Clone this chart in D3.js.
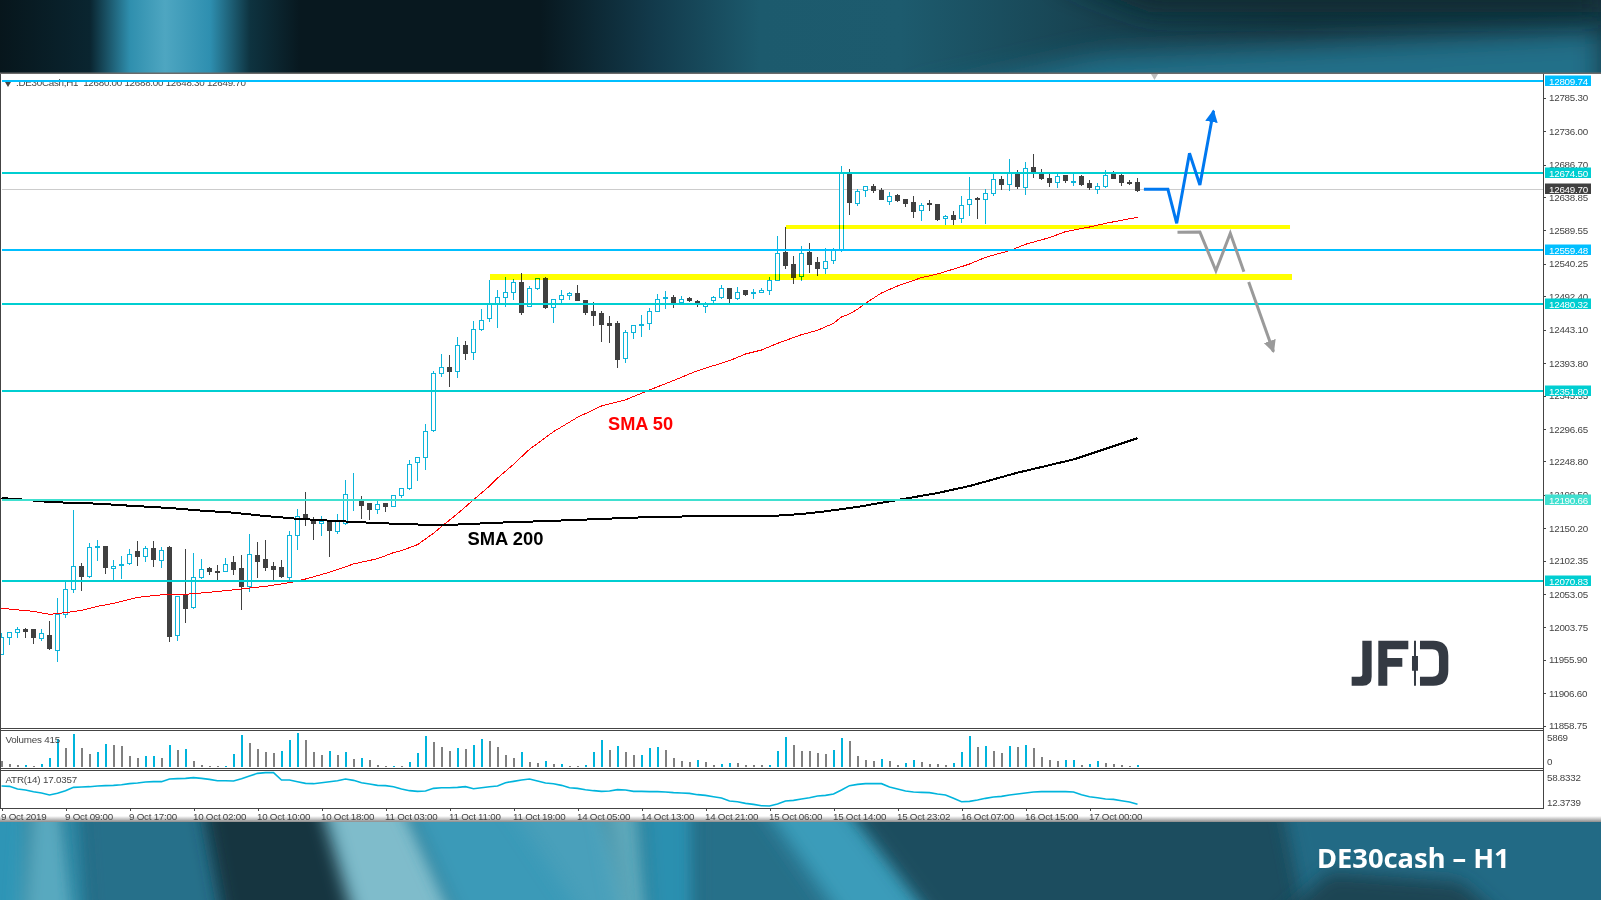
<!DOCTYPE html>
<html>
<head>
<meta charset="utf-8">
<script src="https://cdn.jsdelivr.net/npm/d3@7"></script>
<style>
    html, body { margin: 0; padding: 0; background: #fff; overflow: hidden; }
    svg { display: block; }
    text { font-family: "Liberation Sans", sans-serif; }
</style>
</head>
<body>
<svg id="chart" width="1601" height="900"></svg>
<script>
// candles, one per hour from 9 Oct 2019
var opens = [11963.5,11989.1,11996.4,12000.9,11999.9,11987.6,11992.5,11969.9,12022.5,12059.9,12094.3,12078.6,12121.4,12123.8,12090.4,12094.8,12098.2,12115,12108.1,12119.4,12102.2,12121.9,11991.5,12051.5,12032.8,12077.6,12089.9,12086.9,12086.4,12100.2,12089.9,12064.3,12110.5,12103.2,12094.3,12091.4,12077.6,12139.6,12169.6,12162.2,12156.8,12160.2,12145,12157.3,12191,12190.3,12185.9,12178,12185.9,12182.4,12198.2,12209,12247.3,12254.7,12294,12378.6,12387.9,12381,12419.9,12409.1,12443.5,12459.2,12481.9,12490.7,12498.1,12513.3,12476.9,12503.5,12518.7,12475.5,12487.8,12493.7,12497.1,12486.8,12470.5,12467.6,12451.4,12451.4,12400.2,12438.6,12448.9,12451.9,12469.6,12488.7,12491.2,12483.8,12488.3,12485.3,12476.9,12485.8,12490.7,12504.5,12489.7,12500.1,12497.1,12498.1,12501,12515.3,12557.6,12539.9,12522.2,12556.2,12541.4,12533.1,12544.9,12560.6,12672.2,12629,12648.1,12655,12647.7,12631.9,12640.3,12634.4,12631.4,12618.6,12628.5,12627,12606.8,12610.8,12606.8,12627.5,12636.8,12634.9,12644.2,12663.9,12657,12672.7,12652.6,12681.6,12672.7,12666.8,12659.9,12669.8,12659.9,12668.3,12658,12649.6,12654,12671.3,12669.8,12659.9,12660.9];
var highs = [11995,11996.4,12004.3,12002.8,11999.9,12001.4,12013.2,12047.1,12071.2,12176.9,12098.2,12127.8,12132.7,12123.8,12103.2,12109.1,12119.4,12131.2,12123.8,12131.2,12121.9,12123.8,12049.6,12119.4,12113.5,12104.6,12092.8,12095.8,12106.1,12109.1,12110.5,12141.5,12129.7,12132.7,12100.2,12103.2,12146,12178.4,12203.5,12166.6,12168.1,12162.2,12171,12221.3,12231.6,12197.7,12187.3,12190.3,12185.9,12198.6,12209,12250.8,12254.7,12303.9,12382,12407.1,12405.6,12431.7,12426.3,12455.8,12473,12516.3,12501.5,12520.7,12517.8,12526.6,12507.4,12518.7,12520.2,12487.8,12501.5,12498.6,12508.9,12486.8,12483.8,12470.5,12463.2,12455.8,12442.5,12449.4,12464.6,12475,12495.6,12500.1,12494.2,12492.7,12491.2,12486.8,12483.8,12492.7,12508.9,12504.5,12506,12500.1,12503,12504.5,12520.2,12581.2,12595,12551.7,12566,12570.9,12550.3,12563.6,12563.6,12684.5,12680.1,12650.1,12654.5,12658,12652.1,12646.2,12643.2,12635.9,12640.3,12629.9,12634.4,12628.5,12612.2,12618.1,12640.3,12668.3,12638.8,12650.6,12674.2,12669.8,12694.9,12678.6,12690.4,12702.2,12680.1,12674.2,12674.2,12671.3,12674.2,12671.3,12663.9,12659.5,12678.6,12677.2,12672.7,12663.9,12666.8];
var lows = [11963.5,11977.8,11988.6,11988.6,11979.7,11983.7,11970.4,11953.2,12018.1,12055,12057.4,12076.6,12102.2,12083,12073.7,12075.1,12095.8,12094.3,12100.7,12093.3,12091.9,11982.2,11984.2,12010.7,12031.4,12075.6,12081,12073.7,12086,12081.5,12029.4,12056.4,12076.6,12087.4,12073.7,12077.1,12071.2,12117.9,12153.3,12132.7,12138.6,12107.6,12141.5,12155,12176,12163.7,12162.3,12171.1,12174.1,12181.9,12195.2,12206.5,12219.8,12236,12292.5,12373.7,12358.9,12372.2,12398.3,12398.3,12441,12454.3,12445.5,12476.4,12486.8,12464.6,12476,12501.5,12474,12452.8,12481.9,12486.8,12486.8,12464.6,12448.4,12424.8,12423.3,12386.4,12393.8,12429.2,12432.2,12442.5,12469.1,12473.5,12475,12481.9,12483.8,12476.4,12467.6,12481.9,12488.7,12481.9,12486.8,12492.7,12488.3,12496.6,12494.2,12515.3,12533,12510.4,12514.9,12526.7,12522.2,12525.2,12539.9,12557.7,12612.2,12625.5,12638.8,12644.7,12634.4,12627,12631.4,12624,12607.8,12603.4,12618.1,12603.4,12597.5,12597.5,12600.4,12610.8,12606.3,12599,12640.3,12649.1,12647.7,12650.6,12641.8,12666.8,12663.9,12653.6,12652.1,12659.5,12655,12655,12649.1,12643.2,12652.1,12666.8,12655,12656.5,12646.2];
var closes = [11989.1,11996.4,12000.9,11997.4,11988.6,11995,11972.3,12022.5,12059.9,12093.8,12078.6,12121.9,12123.3,12091.9,12093.8,12096.8,12111.5,12108.1,12120.4,12103.7,12117.4,11990.1,12049.6,12030.9,12077.6,12089.4,12086,12086,12096.8,12088.9,12063.8,12111.5,12100.7,12092.8,12088.9,12078.6,12139.6,12167.6,12162.2,12156.3,12160.2,12146.4,12159.7,12200.1,12192,12183.4,12177.5,12185.4,12181.9,12198.6,12209,12244.4,12254.7,12293.1,12378.6,12387.4,12381,12419.9,12407.6,12443.5,12456.8,12479.9,12490.7,12498.1,12512.8,12468.1,12504,12518.7,12475,12487.8,12493.7,12496.6,12486.8,12468.1,12464.6,12450.4,12448.9,12398.3,12439.1,12449.4,12450.9,12470.1,12487.8,12490.7,12483.8,12487.8,12485.8,12482.8,12479.9,12490.7,12504,12488.3,12498.1,12495.6,12498.6,12501,12516.3,12555.6,12538.4,12520.7,12555.7,12539.9,12532.6,12543.9,12560.1,12673.7,12630.4,12647.2,12654.5,12647.7,12634.4,12639.8,12632.9,12629.9,12616.7,12626.5,12627,12606.3,12610.3,12604.9,12626.5,12635.4,12635.4,12644.2,12664.9,12656.5,12673.7,12653.6,12681.1,12674.7,12665.4,12659.5,12669.3,12662.4,12661.9,12656.5,12652.1,12654.5,12670.8,12666.8,12659.5,12658.5,12649.1];

// moving averages, read at the bars where the line could be seen clearly
var sma50Bars = [0,4,6,8,10,12,14,17,21,23,26,30,33,36,38,41,44,47,49,50,52,54,55,57,59,61,62,64,66,69,72,75,78,81,84,87,91,93,95,97,100,102,104,105,106,107,108,110,112,115,117,120,121,123,126,128,131,133,136,138,140,142];
var sma50Vals = [12031.9,12027.4,12023,12025.5,12028.9,12034.8,12039.2,12048.1,12053,12052.5,12055.5,12060.4,12064.3,12069.7,12075.1,12085,12097.3,12105.1,12114,12117,12125.8,12142.6,12152.5,12171.5,12192,12212.3,12224,12244.3,12266.5,12292.5,12313.7,12330.4,12339.5,12354,12368,12382.5,12397.3,12407.1,12413,12422.8,12435.7,12442,12452.4,12461.8,12466.2,12473.1,12481.9,12497.2,12507.5,12519.8,12525.2,12536,12539.9,12549.8,12559.6,12569,12578.8,12587.7,12594.5,12599.9,12604.4,12608.8];
var sma200Bars = [0,3,6,12,16,21,25,29,33,37,41,46,50,55,62,69,82,97,100,103,107,112,117,121,127,134,142];
var sma200Vals = [12194.6,12192,12188.7,12186.3,12183.3,12179.9,12176,12173,12168,12164,12161.2,12158.2,12156.3,12154.4,12158.2,12161,12167,12168.7,12171,12175,12181.5,12191.7,12202,12212.3,12232,12251.5,12283];

var volumes = [978,460,300,345,172,518,1553,4830,3278,5693,3278,2243,2588,3968,3795,3623,1898,1553,1898,1900,1553,3795,2933,3105,1035,345,172,170,175,2243,5520,4140,3105,2588,2415,2760,4658,5869,4658,2588,2070,2760,2070,2588,1380,1553,1208,345,172,175,170,863,2415,5348,4313,3450,2760,3278,3105,3795,4830,4485,3450,2070,1553,2588,863,690,1035,518,520,172,170,345,2588,4658,2933,3623,2588,2070,2075,3278,3450,2933,1553,1035,863,1208,863,345,518,690,685,345,340,335,345,2760,5175,3795,2760,2755,2415,2243,2933,5003,4485,1898,1208,1035,1380,1035,345,690,1208,863,518,515,345,690,2588,5348,3450,3623,2760,2415,3623,3450,3795,3278,1725,1208,1035,1208,1210,345,518,1035,690,518,345,172,415];

var atr = [39.99,39.57,36.22,34.96,32.87,31.2,28.68,30.78,34.13,38.31,38.73,39.15,39.99,40.41,40.82,41.66,42.92,43.75,45.01,45.43,45.43,48.78,49.2,49.62,50.45,49.62,48.36,46.68,46.68,46.27,49.2,52.55,55.89,56.73,56.73,47.52,47.52,45.43,43.34,42.92,44.17,45.43,46.68,48.78,47.1,44.17,42.5,40.82,40.41,39.15,36.22,34.13,33.29,33.71,37.06,37.89,37.89,38.31,39.15,36.64,37.89,39.15,39.99,44.17,45.85,47.52,48.78,46.27,43.75,42.92,40.82,37.89,37.06,35.38,34.13,33.29,33.71,35.38,34.96,33.29,33.29,32.87,32.87,32.45,31.62,31.2,30.78,29.11,28.27,26.59,24.92,21.15,20.31,18.22,16.96,15.29,14.87,17.38,21.15,21.99,23.66,25.34,27.43,28.27,29.94,34.96,40.41,42.08,42.92,42.92,42.92,38.73,36.22,33.71,32.45,32.03,31.62,29.94,28.68,24.5,20.31,20.73,22.4,24.5,26.17,27.01,28.68,29.94,31.2,32.45,32.87,32.87,32.87,32.87,32.45,29.11,26.59,25.34,23.66,23.24,21.57,19.89,17.04];

var priceTicks = ["12785.30","12736.00","12686.70","12638.85","12589.55","12540.25","12492.40","12443.10","12393.80","12345.55","12296.65","12248.80","12199.50","12150.20","12102.35","12053.05","12003.75","11955.90","11906.60","11858.75"];

var levels = [12809.74, 12674.50, 12559.48, 12480.32, 12351.80, 12190.66, 12070.83];
var levelLabels = ["12809.74", "12674.50", "12559.48", "12480.32", "12351.80", "12190.66", "12070.83"];
var levelColors = ["#00bfff", "#00ced1", "#00bfff", "#00ced1", "#00ced1", "#40e0d0", "#00ced1"];

var timeBars = [0,8,16,24,32,40,48,56,64,72,80,88,96,104,112,120,128,136];
var timeLabels = ["9 Oct 2019","9 Oct 09:00","9 Oct 17:00","10 Oct 02:00","10 Oct 10:00","10 Oct 18:00","11 Oct 03:00","11 Oct 11:00","11 Oct 19:00","14 Oct 05:00","14 Oct 13:00","14 Oct 21:00","15 Oct 06:00","15 Oct 14:00","15 Oct 23:02","16 Oct 07:00","16 Oct 15:00","17 Oct 00:00"];

// support zones and the hand drawn scenarios
var zoneStart = [98.1, 61.1];
var zoneEnd = [161, 161.3];
var zonePrice = [12594.5, 12520.7];
var zoneWidth = [4, 6];

var bluePathBars = [142.8,145.8,146.9,148.5,149.8,151.5];
var bluePathPrices = [12650.1,12650.1,12600,12703.3,12656.5,12766.1];
var grayPathBars = [147,149.8,151.8,153.6,155.3];
var grayPathPrices = [12586.7,12587,12530,12585.2,12528.6];
var grayArrowBars = [155.9,159];
var grayArrowPrices = [12513.3,12410.5];

var UP = "#0cb4da", DOWN = "#404040", FRAME = "#444";
var AXIS_X = 1543;

var svg = d3.select("#chart");
var defs = svg.append("defs");

var x = d3.scaleLinear().domain([0, 142]).range([1.5, 1137.5]);
var y = d3.scaleLinear().domain([12785.3, 11858.75]).range([97.7, 725.65]);
// the level lines sit a touch higher than the candle scale, pinned on the top and bottom level
var yLevel = d3.scaleLinear().domain([12809.74, 12070.83]).range([81, 581]);
var yVol = d3.scaleLinear().domain([0, 5869]).range([767, 733]);
var yAtr = d3.scaleLinear().domain([12.37, 58.83]).range([808, 771]);

// ------- background bands -------
var topStops = [[0,"#07161c"],[90,"#0a2530"],[130,"#2f8fae"],[165,"#4ea6c1"],[210,"#2e8fb0"],[250,"#0e3340"],[300,"#08181f"],[540,"#08181f"],[650,"#12394a"],[760,"#1c5a6d"],[900,"#1d5b6e"],[1100,"#17414f"],[1300,"#16343f"],[1601,"#143642"]];
var topGrad = defs.append("linearGradient").attr("id", "topBand").attr("gradientUnits", "userSpaceOnUse")
    .attr("x1", 0).attr("x2", 1601).attr("y1", 0).attr("y2", 0);
topStops.forEach(function(s) {
    topGrad.append("stop").attr("offset", s[0] / 1601).attr("stop-color", s[1]);
});
defs.append("filter").attr("id", "soft").attr("x", "-30%").attr("width", "160%").attr("y", "-50%").attr("height", "200%")
    .append("feGaussianBlur").attr("stdDeviation", 9);
defs.append("filter").attr("id", "softer").attr("x", "-30%").attr("width", "160%").attr("y", "-80%").attr("height", "260%")
    .append("feGaussianBlur").attr("stdDeviation", 14);
defs.append("clipPath").attr("id", "topClip").append("rect").attr("width", 1601).attr("height", 73);
defs.append("clipPath").attr("id", "bottomClip").append("rect").attr("y", 822).attr("width", 1601).attr("height", 78);

svg.append("rect").attr("width", 1601).attr("height", 900).attr("fill", "#fff");
svg.append("rect").attr("width", 1601).attr("height", 73).attr("fill", "url(#topBand)");
var topShapes = [
    ["900,100 1100,55 1601,30 1601,100", "#206f89"],
    ["1050,-25 1601,-25 1601,12 1150,12", "#102a33"]
];
svg.append("g").attr("clip-path", "url(#topClip)").selectAll("polygon").data(topShapes).enter().append("polygon")
    .attr("points", function(d) { return d[0]; })
    .attr("fill", function(d) { return d[1]; })
    .attr("filter", "url(#softer)");

var bottomShapes = [
    ["-40,790 30,790 30,940 -40,940", "#2f95b6"],
    ["30,790 62,790 82,940 20,940", "#58a9bf"],
    ["65,790 80,790 90,940 80,940", "#2f97b8"],
    ["80,790 205,790 230,940 90,940", "#25708a"],
    ["200,790 320,790 375,940 228,940", "#14343f"],
    ["318,790 400,790 470,940 360,940", "#7fbccb"],
    ["398,790 520,790 630,940 465,940", "#3b9ab8"],
    ["500,790 600,790 650,940 600,940", "#4aa0bb"],
    ["598,790 642,790 655,940 625,940", "#5da7ba"],
    ["640,790 697,790 700,940 650,940", "#2b90b0"],
    ["695,790 755,790 860,940 695,940", "#256f89"],
    ["750,790 840,790 960,940 855,940", "#3a9cba"],
    ["835,790 1290,790 1320,940 950,940", "#1b4e5f"],
    ["1280,790 1660,790 1660,940 1310,940", "#206b85"],
    ["1270,925 1330,872 1460,882 1510,925", "#1a4453"]
];
var bottomBand = svg.append("g").attr("clip-path", "url(#bottomClip)");
bottomBand.append("rect").attr("y", 822).attr("width", 1601).attr("height", 78).attr("fill", "#1f6279");
bottomBand.selectAll("polygon").data(bottomShapes).enter().append("polygon")
    .attr("points", function(d) { return d[0]; })
    .attr("fill", function(d) { return d[1]; })
    .attr("filter", "url(#soft)");

var shadow = defs.append("linearGradient").attr("id", "edgeShadow").attr("x1", 0).attr("x2", 0).attr("y1", 0).attr("y2", 1);
shadow.append("stop").attr("offset", 0).attr("stop-color", "#fff");
shadow.append("stop").attr("offset", 1).attr("stop-color", "#8c8c8c");
svg.append("rect").attr("y", 816).attr("width", 1601).attr("height", 6).attr("fill", "url(#edgeShadow)");
svg.append("rect").attr("y", 72.5).attr("width", 1601).attr("height", 1.5).attr("fill", "#6a6a6a");

// chart caption goes under the level lines, the top line runs through it
svg.append("path").attr("d", "M5,82 L11,82 L8,87 Z").attr("fill", "#444");
svg.append("path").attr("d", "M1151,74 L1158,74 L1154.5,80 Z").attr("fill", "#bdbdbd");
svg.append("text").attr("x", 16).attr("y", 86).text(".DE30Cash,H1  12680.00 12688.00 12648.30 12649.70")
    .attr("xml:space", "preserve").attr("fill", "#444").attr("font-size", 9.8).attr("letter-spacing", "-0.26");

// ------- candles -------
var bars = d3.range(opens.length);
var plot = svg.append("g").attr("shape-rendering", "crispEdges");

plot.append("line").attr("x1", 2).attr("x2", AXIS_X)
    .attr("y1", yLevel(12649.70)).attr("y2", yLevel(12649.70))
    .attr("stroke", "#cccccc");

plot.selectAll("line.wick").data(bars).enter().append("line")
    .attr("class", "wick")
    .attr("x1", function(i) { return x(i); })
    .attr("x2", function(i) { return x(i); })
    .attr("y1", function(i) { return y(highs[i]); })
    .attr("y2", function(i) { return y(lows[i]); })
    .attr("stroke", function(i) { return closes[i] > opens[i] ? UP : DOWN; });

plot.selectAll("rect.body").data(bars).enter().append("rect")
    .attr("class", "body")
    .attr("x", function(i) { return x(i) - 2; })
    .attr("width", 4)
    .attr("y", function(i) { return y(Math.max(opens[i], closes[i])); })
    .attr("height", function(i) { return Math.max(1, Math.abs(y(opens[i]) - y(closes[i]))); })
    .attr("fill", function(i) { return closes[i] > opens[i] ? "#fff" : DOWN; })
    .attr("stroke", function(i) { return closes[i] > opens[i] ? UP : DOWN; });

// moving averages
var smaLine = d3.line()
    .x(function(d) { return x(d[0]); })
    .y(function(d) { return y(d[1]); });

plot.append("path").datum(d3.zip(sma50Bars, sma50Vals))
    .attr("d", smaLine).attr("fill", "none").attr("stroke", "#ff0000").attr("stroke-width", 1);
plot.append("path").datum(d3.zip(sma200Bars, sma200Vals))
    .attr("d", smaLine).attr("fill", "none").attr("stroke", "#000").attr("stroke-width", 2);

// horizontal levels
plot.selectAll("line.level").data(levels).enter().append("line")
    .attr("class", "level")
    .attr("x1", 2).attr("x2", AXIS_X)
    .attr("y1", function(d) { return yLevel(d); })
    .attr("y2", function(d) { return yLevel(d); })
    .attr("stroke-width", 2)
    .attr("stroke", function(d, i) { return levelColors[i]; });

// yellow zones, candles show through them
svg.selectAll("line.zone").data(zonePrice).enter().append("line")
    .attr("class", "zone")
    .attr("x1", function(d, i) { return x(zoneStart[i]); })
    .attr("x2", function(d, i) { return x(zoneEnd[i]); })
    .attr("y1", function(d) { return y(d); })
    .attr("y2", function(d) { return y(d); })
    .attr("stroke", "#ffff00")
    .attr("stroke-width", function(d, i) { return zoneWidth[i]; })
    .attr("shape-rendering", "crispEdges")
    .style("mix-blend-mode", "multiply");

// scenario arrows
function addArrowHead(id, colour) {
    defs.append("marker").attr("id", id).attr("viewBox", "0 0 10 10").attr("refX", 9).attr("refY", 5)
        .attr("markerWidth", 4.2).attr("markerHeight", 4.2).attr("orient", "auto")
        .append("path").attr("d", "M0,0 L10,5 L0,10 Z").attr("fill", colour);
}
addArrowHead("blueHead", "#0078f0");
addArrowHead("grayHead", "#9a9a9a");

var scenarioLine = d3.line()
    .x(function(d) { return x(d[0]); })
    .y(function(d) { return y(d[1]); });

svg.append("path").datum(d3.zip(bluePathBars, bluePathPrices)).attr("d", scenarioLine)
    .attr("fill", "none").attr("stroke", "#0078f0").attr("stroke-width", 3)
    .attr("marker-end", "url(#blueHead)");
svg.append("path").datum(d3.zip(grayPathBars, grayPathPrices)).attr("d", scenarioLine)
    .attr("fill", "none").attr("stroke", "#9a9a9a").attr("stroke-width", 3);
svg.append("path").datum(d3.zip(grayArrowBars, grayArrowPrices)).attr("d", scenarioLine)
    .attr("fill", "none").attr("stroke", "#9a9a9a").attr("stroke-width", 3)
    .attr("marker-end", "url(#grayHead)");

svg.append("text").attr("x", 608).attr("y", 430).text("SMA 50")
    .attr("font-size", 18.2).attr("font-weight", "bold").attr("fill", "#ff0000");
svg.append("text").attr("x", 467.5).attr("y", 544.5).text("SMA 200")
    .attr("font-size", 18.4).attr("font-weight", "bold").attr("fill", "#000");

// JFD logo
svg.append("path")
    .attr("transform", "translate(1200,500) scale(0.3333)")
    .attr("fill", "#343a43")
    .attr("d", "M487,422 L515,422 L515,530 Q515,557 488,557 L455,557 L455,530 L480,530 Q487,530 487,522 Z"
        + " M535,422 L625,422 L625,448 L562,448 L562,474 L607,474 L607,500 L562,500 L562,557 L535,557 Z"
        + " M642,422 L648,422 L648,468 L654,468 L654,512 L648,512 L648,557 L642,557 L642,512 L636,512 L636,468 L642,468 Z"
        + " M660,422 L700,422 Q745,422 745,467 L745,512 Q745,557 700,557 L660,557 L660,530 L697,530 Q717,530 717,510 L717,470 Q717,448 697,448 L660,448 Z");

// ------- volumes -------
svg.append("g").attr("shape-rendering", "crispEdges").selectAll("rect").data(volumes).enter().append("rect")
    .attr("x", function(d, i) { return x(i) - 1; })
    .attr("width", 2)
    .attr("y", function(d) { return yVol(d); })
    .attr("height", function(d) { return yVol(0) - yVol(d); })
    .attr("fill", function(d, i) { return i > 0 && d > volumes[i - 1] ? "#00b4dc" : "#808080"; });

// ------- ATR -------
svg.append("path").datum(atr)
    .attr("d", d3.line().x(function(d, i) { return x(i); }).y(function(d) { return yAtr(d); }))
    .attr("fill", "none").attr("stroke", "#00b4dc").attr("stroke-width", 1.6);

// ------- frames -------
var frame = svg.append("g").attr("stroke", FRAME).attr("shape-rendering", "crispEdges");
[728.5, 730.5, 768.5, 770.5, 808.5].forEach(function(yy) {
    frame.append("line").attr("x1", 0).attr("x2", AXIS_X).attr("y1", yy).attr("y2", yy);
});
frame.append("line").attr("x1", 0.5).attr("x2", 0.5).attr("y1", 74).attr("y2", 808.5);
frame.append("line").attr("x1", AXIS_X + 0.5).attr("x2", AXIS_X + 0.5).attr("y1", 74).attr("y2", 808.5);

// ------- axes -------
function styleAxis(g) {
    g.select(".domain").remove();
    g.selectAll("line").attr("stroke", FRAME).attr("shape-rendering", "crispEdges");
    g.selectAll("text").attr("fill", "#444").attr("font-family", "Liberation Sans").attr("font-size", 9.8).attr("letter-spacing", "-0.25");
}

svg.append("g").attr("transform", "translate(" + AXIS_X + ",0)")
    .call(d3.axisRight(y).tickValues(priceTicks.map(Number)).tickSize(3).tickPadding(3).tickFormat(d3.format(".2f")))
    .call(styleAxis);

svg.append("g").attr("transform", "translate(" + AXIS_X + ",0)")
    .call(d3.axisRight(yVol).tickValues([0, 5869]).tickSize(0).tickPadding(4).tickFormat(d3.format("d")))
    .call(styleAxis)
    .selectAll("text").attr("dy", function(d) { return d === 0 ? "-3px" : "7px"; });

svg.append("g").attr("transform", "translate(" + AXIS_X + ",0)")
    .call(d3.axisRight(yAtr).tickValues([12.3739, 58.8332]).tickSize(0).tickPadding(4).tickFormat(d3.format(".4f")))
    .call(styleAxis)
    .selectAll("text").attr("dy", function(d) { return d < 20 ? "-2px" : "10px"; });

svg.append("g").attr("transform", "translate(0,808)")
    .call(d3.axisBottom(x).tickValues(timeBars).tickSize(3).tickPadding(2).tickFormat(function(d, i) { return timeLabels[i]; }))
    .call(styleAxis)
    .selectAll("text").attr("text-anchor", "start").attr("x", -1).attr("y", 5);

// price tags on top of the axis labels
var tags = svg.append("g");
function addTag(label, yy, colour) {
    tags.append("rect").attr("x", AXIS_X + 2).attr("width", 46).attr("y", Math.round(yy) - 5.5).attr("height", 10.5).attr("fill", colour);
    tags.append("text").attr("x", AXIS_X + 6).attr("y", Math.round(yy) + 3.5).text(label)
        .attr("fill", "#fff").attr("font-size", 9.8).attr("letter-spacing", "-0.25");
}
levels.forEach(function(level, i) {
    addTag(levelLabels[i], yLevel(level), levelColors[i]);
});
addTag("12649.70", yLevel(12649.70), "#404040");

// ------- captions -------
svg.append("text").attr("x", 5.5).attr("y", 743).text("Volumes 415").attr("fill", "#444").attr("font-size", 9.8).attr("letter-spacing", "-0.2");
svg.append("text").attr("x", 5.5).attr("y", 783).text("ATR(14) 17.0357").attr("fill", "#444").attr("font-size", 9.8).attr("letter-spacing", "-0.2");

svg.append("text").attr("x", 1317).attr("y", 867.5).text("DE30cash \u2013 H1")
    .attr("fill", "#fff").style("font-family", "'Noto Sans'").attr("font-weight", "bold").attr("font-size", 27.3);
</script>
</body>
</html>
